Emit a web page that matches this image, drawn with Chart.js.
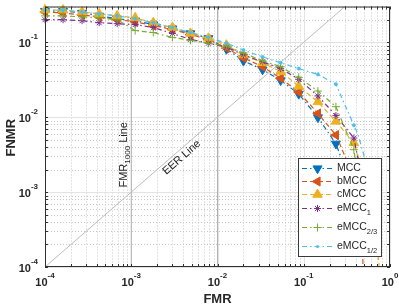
<!DOCTYPE html>
<html><head><meta charset="utf-8">
<script src="https://cdn.jsdelivr.net/npm/chart.js"></script>
<style>html,body{margin:0;padding:0;background:#fff;overflow:hidden}canvas{display:block}</style>
</head><body>
<canvas id="c" width="399" height="308"></canvas>
<script>
// ---- data (FMR / FNMR) ----
const fmrMarks = [1e-4,1.62e-4,2.69e-4,4.25e-4,6.87e-4,1.11e-3,1.80e-3,3.0e-3,4.85e-3,7.85e-3,1.27e-2,2.0e-2,3.33e-2,5.4e-2,8.75e-2,0.146,0.236,0.381];

const mccFNMR   = [0.261,0.261,0.246,0.225,0.206,0.194,0.172,0.152,0.131,0.113,0.0811,0.0565,0.0431,0.0310,0.0204,0.00991,0.00441,0.00101];
const mccTailFMR   = [0.40,0.41];
const mccTailFNMR  = [0.0004,0.00015];

const bmccFNMR  = [0.253,0.246,0.232,0.218,0.200,0.188,0.167,0.148,0.127,0.109,0.0836,0.0618,0.0472,0.0330,0.0216,0.0112,0.00577,0.00159];
const bmccTailFMR  = [0.44,0.475,0.485,0.485];
const bmccTailFNMR = [0.0006,0.00025,0.00012,0.00005];

const cmccFNMR  = [0.269,0.269,0.253,0.239,0.225,0.212,0.182,0.157,0.131,0.113,0.0914,0.0678,0.0532,0.0406,0.0259,0.0160,0.00879,0.00454];
const cmccTailFMR  = [0.5,0.6,0.70,0.745,0.745];
const cmccTailFNMR = [0.0017,0.0006,0.0002,0.00011,0.00005];

const emcc1FNMR = [0.200,0.200,0.194,0.182,0.177,0.172,0.157,0.131,0.109,0.0971,0.0861,0.0678,0.0548,0.0445,0.0320,0.0192,0.0105,0.00527];
const emcc1TailFMR  = [0.45,0.5,0.53];
const emcc1TailFNMR = [0.002,0.0006,0.0002];

const emcc23FNMR = [0.225,0.225,0.218,0.212,0.200,0.143,0.135,0.116,0.106,0.0971,0.0887,0.0719,0.0565,0.0472,0.0340,0.0223,0.0138,0.00368];
const emcc23TailFMR  = [0.43,0.47,0.5];
const emcc23TailFNMR = [0.0015,0.0005,0.0002];

const emcc12FNMR = [0.269,0.269,0.253,0.239,0.225,0.206,0.182,0.157,0.135,0.116,0.0971,0.0787,0.0637,0.0532,0.0445,0.0372,0.0275,0.0078];
const emcc12TailFMR  = [0.423,0.50,0.56,0.6];
const emcc12TailFNMR = [0.0060,0.00307,0.0011,0.0003];

const seriesNames = ['MCC','bMCC','cMCC','eMCC','eMCC','eMCC'];
const seriesSubs  = ['','','','1','2/3','1/2'];

const eerLine  = [1e-4, 1];
const fmrLines = [1e-3, 1e-2];
const xTickExps = [-4,-3,-2,-1,0];
const yTickExps = [-4,-3,-2,-1];
const xRange = [1e-4, 1];
const yRange = [1e-4, 0.3];

// ---- styles ----
const DD = [5,3,1.5,3], DA = [5,3];
const styles = [
  {color:'#0072BD', shape:'triangle', rot:180, r:5.2, fill:true, dash:DD},
  {color:'#D95319', shape:'triangle', rot:270, r:5.2, fill:true, dash:DA},
  {color:'#EDB120', shape:'triangle', rot:0,   r:5.5, fill:true, dash:DA},
  {color:'#7E2F8E', shape:'star',     rot:0,   r:3.5, fill:false, dash:DD},
  {color:'#77AC30', shape:'cross',    rot:0,   r:4,   fill:false, dash:DD},
  {color:'#4DBEEE', shape:'circle',   rot:0,   r:1.5, fill:true, dash:DD}
];
const seriesFNMR = [mccFNMR,bmccFNMR,cmccFNMR,emcc1FNMR,emcc23FNMR,emcc12FNMR];
const tailsX = [mccTailFMR,bmccTailFMR,cmccTailFMR,emcc1TailFMR,emcc23TailFMR,emcc12TailFMR];
const tailsY = [mccTailFNMR,bmccTailFNMR,cmccTailFNMR,emcc1TailFNMR,emcc23TailFNMR,emcc12TailFNMR];

const FONT = '"Liberation Sans", Arial, Helvetica, sans-serif';
const nM = fmrMarks.length;

const datasets = seriesFNMR.map((ys, k) => {
  const s = styles[k];
  const pts = fmrMarks.map((x,i)=>({x, y:ys[i]})).concat(tailsX[k].map((x,i)=>({x, y:tailsY[k][i]})));
  return {
    data: pts, borderColor: s.color, backgroundColor: s.color, borderWidth: 1.2, borderDash: s.dash,
    pointStyle: s.shape, pointRotation: s.rot,
    pointRadius: c => c.dataIndex < nM ? s.r : 0,
    pointBackgroundColor: s.fill ? s.color : 'rgba(0,0,0,0)', pointBorderColor: s.color, pointBorderWidth: 1,
    pointHoverRadius: 0, tension: 0, order: 6 - k,
    clip: {left: 8, top: 8, right: 0, bottom: 0}
  };
});
datasets.push({data: eerLine.map(v=>({x:v, y:v})), borderColor:'#bcbcbc', borderWidth:1, pointRadius:0, order:10, clip:0});
fmrLines.forEach(v => datasets.push({data:[{x:v,y:yRange[0]},{x:v,y:yRange[1]}], borderColor:'#b0b0b0', borderWidth:1, pointRadius:0, order:10, clip:0}));

function decadeValues(lo, hi, withMajor) {
  const out = [];
  for (let e = Math.floor(Math.log10(lo)); e <= Math.ceil(Math.log10(hi)); e++) {
    for (let m = withMajor ? 1 : 2; m <= (withMajor ? 1 : 9); m++) {
      const v = m * Math.pow(10, e);
      if (v >= lo*0.999 && v <= hi*1.001) out.push(v);
    }
  }
  return out;
}

function drawMarker(ctx, s, x, y) {
  ctx.save(); ctx.setLineDash([]); ctx.strokeStyle = s.color; ctx.fillStyle = s.color; ctx.lineWidth = 1;
  const r = s.r;
  ctx.beginPath();
  if (s.shape === 'triangle') {
    let rad = s.rot*Math.PI/180;
    for (let k=0;k<3;k++){ const t = rad + k*2*Math.PI/3; ctx.lineTo(x+Math.sin(t)*r, y-Math.cos(t)*r); }
    ctx.closePath(); ctx.fill(); ctx.stroke();
  } else if (s.shape === 'star') {
    for (let k=0;k<4;k++){ const t=k*Math.PI/4; ctx.moveTo(x+Math.cos(t)*r, y+Math.sin(t)*r); ctx.lineTo(x-Math.cos(t)*r, y-Math.sin(t)*r); }
    ctx.stroke();
  } else if (s.shape === 'cross') {
    ctx.moveTo(x-r,y); ctx.lineTo(x+r,y); ctx.moveTo(x,y-r); ctx.lineTo(x,y+r); ctx.stroke();
  } else {
    ctx.arc(x,y,r,0,Math.PI*2); ctx.fill();
  }
  ctx.restore();
}

function supText(ctx, x, y, base, exp, align, bf, sf, off) {
  ctx.font = bf; const wb = ctx.measureText(base).width;
  ctx.font = sf; const we = ctx.measureText(exp).width;
  const tot = wb + we;
  const x0 = align === 'center' ? x - tot/2 : align === 'right' ? x - tot : x;
  ctx.textAlign = 'left'; ctx.textBaseline = 'middle';
  ctx.font = bf; ctx.fillText(base, x0, y);
  ctx.font = sf; ctx.fillText(exp, x0 + wb, y + off);
  return tot;
}

const gridPlugin = {
  id: 'matlabGrid',
  beforeDatasetsDraw(chart) {
    const {ctx, chartArea: a, scales: {x: X, y: Y}} = chart;
    ctx.save();
    ctx.lineWidth = 1;
    // minor dotted grid
    ctx.strokeStyle = '#c6c6c6'; ctx.setLineDash([1,2]);
    decadeValues(xRange[0], xRange[1], false).forEach(v => {
      const p = Math.round(X.getPixelForValue(v)) + 0.5;
      ctx.beginPath(); ctx.moveTo(p, a.top); ctx.lineTo(p, a.bottom); ctx.stroke();
    });
    decadeValues(yRange[0], yRange[1], false).forEach(v => {
      const p = Math.round(Y.getPixelForValue(v)) + 0.5;
      ctx.beginPath(); ctx.moveTo(a.left, p); ctx.lineTo(a.right, p); ctx.stroke();
    });
    // major grid
    ctx.setLineDash([]); ctx.strokeStyle = '#e3e3e3';
    decadeValues(xRange[0], xRange[1], true).forEach(v => {
      const p = Math.round(X.getPixelForValue(v)) + 0.5;
      ctx.beginPath(); ctx.moveTo(p, a.top); ctx.lineTo(p, a.bottom); ctx.stroke();
    });
    decadeValues(yRange[0], yRange[1], true).forEach(v => {
      const p = Math.round(Y.getPixelForValue(v)) + 0.5;
      ctx.beginPath(); ctx.moveTo(a.left, p); ctx.lineTo(a.right, p); ctx.stroke();
    });
    ctx.restore();
  },
  afterDatasetsDraw(chart) {
    const {ctx, chartArea: a, scales: {x: X, y: Y}} = chart;
    ctx.save();
    // box
    ctx.strokeStyle = '#303030'; ctx.lineWidth = 1; ctx.setLineDash([]);
    ctx.strokeRect(a.left + 0.5, a.top + 0.5, a.right - a.left - 1, a.bottom - a.top - 1);
    // tick marks (inward, all sides)
    const tl = 3;
    const xt = decadeValues(xRange[0], xRange[1], false).concat(decadeValues(xRange[0], xRange[1], true));
    const yt = decadeValues(yRange[0], yRange[1], false).concat(decadeValues(yRange[0], yRange[1], true));
    ctx.beginPath();
    xt.forEach(v => { const p = Math.round(X.getPixelForValue(v)) + 0.5;
      ctx.moveTo(p, a.bottom); ctx.lineTo(p, a.bottom - tl); ctx.moveTo(p, a.top); ctx.lineTo(p, a.top + tl); });
    yt.forEach(v => { const p = Math.round(Y.getPixelForValue(v)) + 0.5;
      ctx.moveTo(a.left, p); ctx.lineTo(a.left + tl, p); ctx.moveTo(a.right, p); ctx.lineTo(a.right - tl, p); });
    ctx.stroke();

    // tick labels
    ctx.fillStyle = '#262626';
    const bf = 'bold 11px ' + FONT, sf = 'bold 8px ' + FONT;
    xTickExps.forEach(e => {
      const p = X.getPixelForValue(Math.pow(10, e));
      supText(ctx, p, a.bottom + 16, '10', String(e), 'center', bf, sf, -7);
    });
    yTickExps.forEach(e => {
      const p = Y.getPixelForValue(Math.pow(10, e));
      supText(ctx, a.left - 7, p + 2, '10', String(e), 'right', bf, sf, -7);
    });

    // axis titles
    ctx.font = 'bold 13px ' + FONT; ctx.textAlign = 'center'; ctx.textBaseline = 'middle';
    ctx.fillText('FMR', (a.left + a.right) / 2, 299);
    ctx.save(); ctx.translate(11, (a.top + a.bottom) / 2 + 1); ctx.rotate(-Math.PI/2);
    ctx.fillText('FNMR', 0, 0); ctx.restore();

    // FMR_1000 Line annotation
    ctx.save();
    ctx.translate(X.getPixelForValue(fmrLines[0]) - 4, Y.getPixelForValue(1.15e-3));
    ctx.rotate(-Math.PI/2);
    ctx.textAlign = 'left'; ctx.textBaseline = 'alphabetic';
    ctx.font = '11px ' + FONT; ctx.fillText('FMR', 0, 0); let w = ctx.measureText('FMR').width;
    ctx.font = '8px ' + FONT; ctx.fillText('1000', w, 3); w += ctx.measureText('1000').width;
    ctx.font = '11px ' + FONT; ctx.fillText(' Line', w, 0);
    ctx.restore();

    // EER Line annotation
    const p1x = X.getPixelForValue(1e-4), p1y = Y.getPixelForValue(1e-4);
    const p2x = X.getPixelForValue(1e-1), p2y = Y.getPixelForValue(1e-1);
    const th = Math.atan2(p2y - p1y, p2x - p1x);
    ctx.save();
    ctx.translate(X.getPixelForValue(3.4e-3), Y.getPixelForValue(3.4e-3));
    ctx.rotate(th);
    ctx.font = '11px ' + FONT; ctx.textAlign = 'center'; ctx.textBaseline = 'middle';
    ctx.fillText('EER Line', 0, 7);
    ctx.restore();

    // legend
    const lx = 298, ly = 158, lw = 84, lh = 99;
    ctx.fillStyle = '#ffffff'; ctx.fillRect(lx, ly, lw, lh);
    ctx.strokeStyle = '#3a3a3a'; ctx.lineWidth = 1; ctx.strokeRect(lx + 0.5, ly + 0.5, lw - 1, lh - 1);
    const rows = [168, 181, 194, 208, 227, 246];
    seriesNames.forEach((n, k) => {
      const s = styles[k], y = rows[k];
      ctx.save(); ctx.strokeStyle = s.color; ctx.lineWidth = 1.2; ctx.setLineDash(s.dash);
      ctx.beginPath(); ctx.moveTo(302, y + 0.5); ctx.lineTo(333, y + 0.5); ctx.stroke(); ctx.restore();
      drawMarker(ctx, s, 317.5, y + 0.5);
      ctx.fillStyle = '#262626'; ctx.textAlign = 'left'; ctx.textBaseline = 'middle';
      ctx.font = '10.5px ' + FONT; ctx.fillText(n, 337, y);
      if (seriesSubs[k]) {
        const wn = ctx.measureText(n).width;
        ctx.font = '7.5px ' + FONT; ctx.fillText(seriesSubs[k], 337 + wn, y + 5);
      }
    });
    ctx.restore();
  }
};

new Chart(document.getElementById('c'), {
  type: 'line',
  data: { datasets },
  options: {
    responsive: false, animation: false, events: [],
    layout: { padding: { left: 45, right: 9, top: 1, bottom: 41 } },
    plugins: { legend: { display: false }, tooltip: { enabled: false } },
    scales: {
      x: { type: 'logarithmic', min: xRange[0], max: xRange[1], display: false },
      y: { type: 'logarithmic', min: yRange[0], max: yRange[1], display: false }
    }
  },
  plugins: [gridPlugin]
});
</script>
</body></html>
